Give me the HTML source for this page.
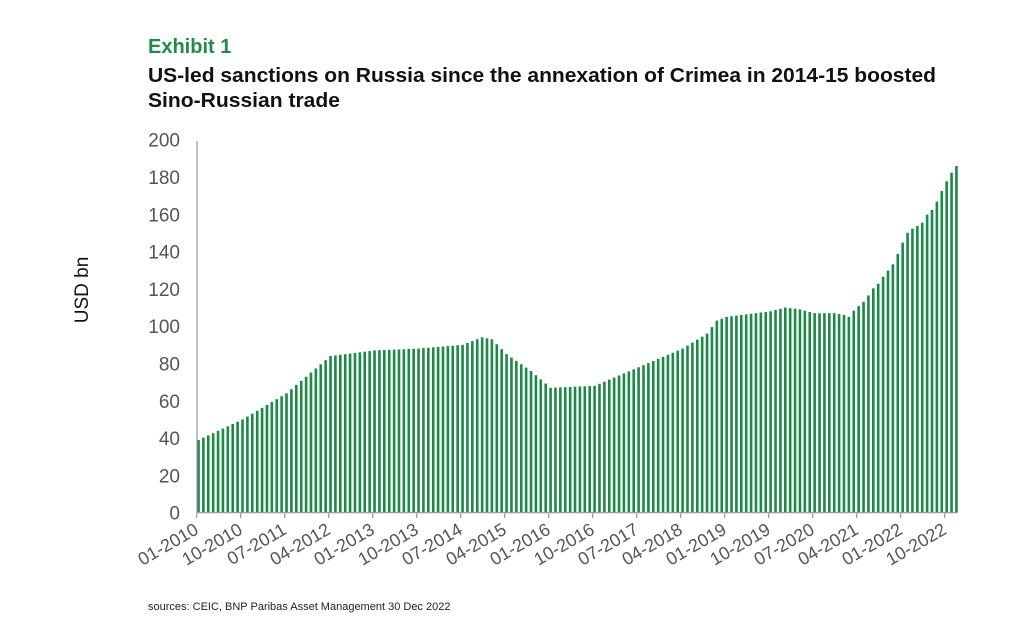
<!DOCTYPE html>
<html><head><meta charset="utf-8"><style>
html,body{margin:0;padding:0;background:#fff;}
svg{display:block;font-family:"Liberation Sans",sans-serif;}
</style></head><body>
<svg id="s" width="1024" height="643" xmlns="http://www.w3.org/2000/svg">
<text x="148" y="53" font-size="20" font-weight="bold" fill="#1e8c45">Exhibit 1</text>
<text x="148" y="82" font-size="20" font-weight="bold" fill="#111" textLength="788" lengthAdjust="spacingAndGlyphs">US-led sanctions on Russia since the annexation of Crimea in 2014-15 boosted</text>
<text x="148" y="107" font-size="20" font-weight="bold" fill="#111" textLength="192" lengthAdjust="spacingAndGlyphs">Sino-Russian trade</text>
<text transform="translate(88,290) rotate(-90)" text-anchor="middle" font-size="19" fill="#111">USD bn</text>
<text x="148" y="610" font-size="11" fill="#222">sources: CEIC, BNP Paribas Asset Management   30 Dec 2022</text>
<g id="g"></g>
</svg>
<script>
var y0=512.7,k=1.865,g=document.getElementById('g'),h='';
for(var v=0;v<=200;v+=20){h+='<text x="180" y="'+(y0-v*k+7)+'" text-anchor="end" font-size="19" fill="#555">'+v+'</text>';}
var kp=[[0,39],[9,50],[18,64],[27,84],[36,87],[45,88],[54,90],[58,94],[60,93],[63,85],[68,76],[72,67],[81,68],[90,78],[99,88],[104,96],[106,103],[108,105],[117,108],[120,110],[123,109],[126,107],[130,107],[132,106],[133,105]];
var late=[108.3,110.8,113.1,116.5,120.3,122.8,126.5,129.8,133.2,138.7,144.8,150.1,152.3,153.7,155.5,159.8,162.3,166.8,172.5,177.7,182.3,185.9];
function val(i){if(i>=134)return late[i-134];for(var j=0;j<kp.length-1;j++){if(i>=kp[j][0]&&i<=kp[j+1][0]){var t=(i-kp[j][0])/(kp[j+1][0]-kp[j][0]);return kp[j][1]+t*(kp[j+1][1]-kp[j][1]);}}return 105;}
for(var i=0;i<156;i++){var x=197.2+i*4.89,v=val(i);h+='<rect x="'+x.toFixed(2)+'" y="'+(y0-v*k).toFixed(2)+'" width="2.6" height="'+(v*k).toFixed(2)+'" fill="#1a8a45"/>';}
h+='<line x1="197" y1="141" x2="197" y2="513" stroke="#999" stroke-width="1.2"/>';
h+='<line x1="197" y1="512.7" x2="957" y2="512.7" stroke="#999" stroke-width="1.2"/>';
var labs=['01-2010','10-2010','07-2011','04-2012','01-2013','10-2013','07-2014','04-2015','01-2016','10-2016','07-2017','04-2018','01-2019','10-2019','07-2020','04-2021','01-2022','10-2022'];
for(var j=0;j<labs.length;j++){var x=196.7+j*44;h+='<line x1="'+x+'" y1="512.7" x2="'+x+'" y2="518" stroke="#999" stroke-width="1.2"/>';
h+='<text transform="translate('+(x+3)+',533) rotate(-30)" text-anchor="end" font-size="18" fill="#555">'+labs[j]+'</text>';}
g.innerHTML=h;
</script>
</body></html>
